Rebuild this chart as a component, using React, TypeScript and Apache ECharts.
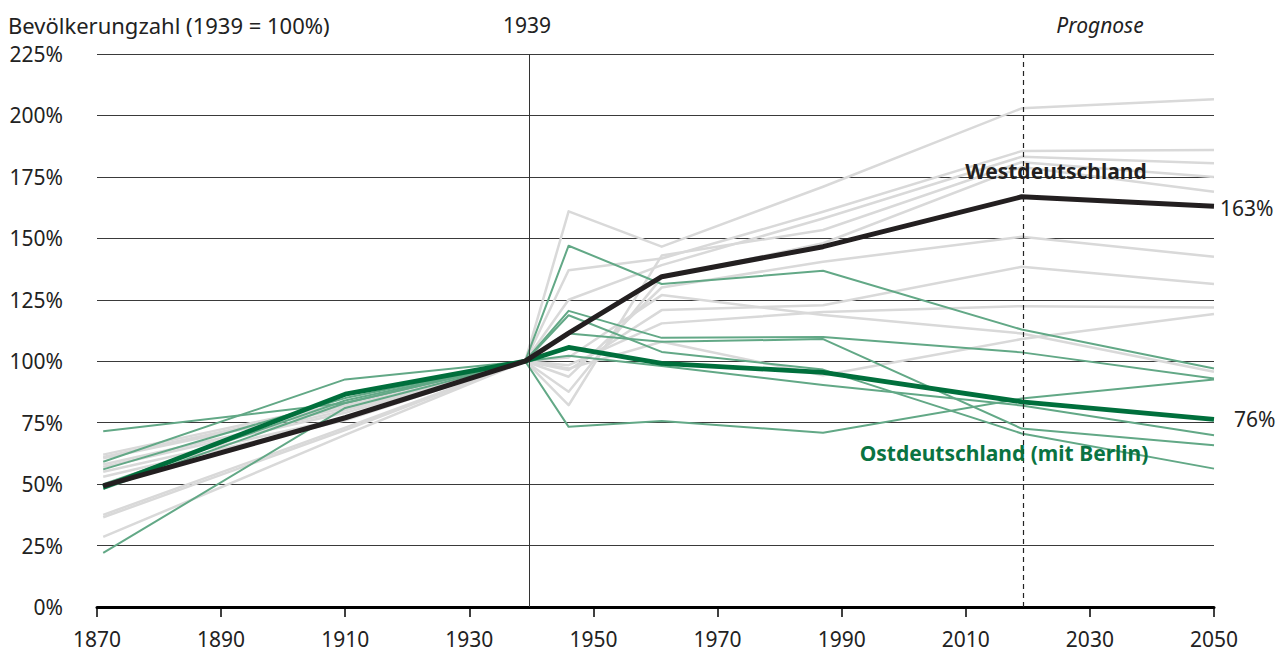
import React, { useEffect, useRef } from "react";
import * as echarts from "echarts";

const years = [1871, 1910, 1939, 1946, 1961, 1987, 2019, 2050];
const xTicks = { min: 1870, max: 2050, step: 20 };
const yTicks = { min: 0, max: 225, step: 25 };

const westTotal = [49.3, 77, 100, 111.4, 134.4, 146.6, 166.9, 163.1];
const eastTotal = [48.7, 86.6, 100, 105.6, 99.1, 95.5, 83.5, 76.3];

const eastStates = [
  [71.5, 83, 100, 147, 131.4, 136.8, 112.9, 97],
  [59.1, 92.6, 100, 120.5, 109.5, 109.9, 103.6, 93],
  [56, 85, 100, 118.7, 103.8, 96.6, 70.6, 56.3],
  [50, 84, 100, 111.3, 107.9, 109, 72.6, 65.8],
  [48, 83, 100, 102.2, 98.1, 90.3, 82, 69.9],
  [22, 81, 100, 73.3, 75.7, 70.9, 84.8, 92.6],
];

const westStates = [
  [62, 83, 100, 161, 146.6, 171, 202.9, 206.6],
  [60.5, 81, 100, 137, 141.8, 160.8, 185.5, 185.9],
  [55, 77, 100, 125, 139.1, 158.1, 183.2, 180.5],
  [37.5, 73, 100, 82.1, 143, 153.4, 181, 175],
  [36.5, 72, 100, 87.6, 134, 148, 179, 169],
  [28.5, 70, 100, 93.7, 130, 140.5, 150.6, 142.5],
  [57, 79, 100, 96.4, 120.8, 122.8, 138.4, 131.4],
  [53, 76, 100, 98.4, 115.4, 120, 122.4, 121.9],
  [61, 82, 100, 97, 107.9, 94.3, 109, 119.2],
  [58, 80, 100, 101.5, 126.9, 118.8, 111.3, 95.7],
];

const markYears = { base: 1939.6, forecast: 2019.3 };

const FONT = "'Noto Sans', sans-serif";
const FS = 21;

function pairs(vals: number[]) {
  return years.map((y, i) => [y, vals[i]]);
}

export default function App() {
  const ref = useRef<HTMLDivElement>(null);
  useEffect(() => {
    document.body.style.margin = "0";
    if (!ref.current) return;
    const chart = echarts.init(ref.current, undefined, { renderer: "svg" });
    const series: any[] = [];
    westStates.forEach((s, i) => {
      series.push({
        type: "line",
        data: pairs(s),
        symbol: "none",
        lineStyle: { color: "#d9d9d9", width: 2.5, join: "round" },
        z: 2,
        silent: true,
        markLine:
          i === 0
            ? {
                silent: true,
                symbol: ["none", "none"],
                label: { show: false },
                data: [
                  { xAxis: markYears.base, lineStyle: { type: "solid", color: "#333", width: 1 } },
                  { xAxis: markYears.forecast, lineStyle: { type: [5, 4], color: "#222", width: 1.2 } },
                ],
              }
            : undefined,
      });
    });
    eastStates.forEach((s) => {
      series.push({
        type: "line",
        data: pairs(s),
        symbol: "none",
        lineStyle: { color: "#62a886", width: 2, join: "round" },
        z: 3,
        silent: true,
      });
    });
    series.push({
      type: "line",
      data: pairs(eastTotal),
      symbol: "none",
      lineStyle: { color: "#006f3c", width: 4.8, join: "round" },
      z: 4,
      silent: true,
      endLabel: {
        show: true,
        formatter: (p: any) => Math.round(p.value[1]) + "%",
        color: "#222",
        fontSize: FS,
        fontFamily: FONT,
        distance: 20,
      },
    });
    series.push({
      type: "line",
      data: pairs(westTotal),
      symbol: "none",
      lineStyle: { color: "#231f20", width: 5, join: "round" },
      z: 5,
      silent: true,
      endLabel: {
        show: true,
        formatter: (p: any) => Math.round(p.value[1]) + "%",
        color: "#222",
        fontSize: FS,
        fontFamily: FONT,
        distance: 6,
        offset: [0, 2],
      },
    });

    chart.setOption({
      animation: false,
      grid: { left: 97, right: 72, top: 54, bottom: 46, containLabel: false },
      xAxis: {
        type: "value",
        min: xTicks.min,
        max: xTicks.max,
        interval: xTicks.step,
        splitLine: { show: false },
        axisLine: { show: true, onZero: true, lineStyle: { color: "#000", width: 3 } },
        axisTick: { show: true, length: 10, lineStyle: { color: "#000", width: 1.5 } },
        axisLabel: {
          color: "#222",
          fontSize: FS,
          fontFamily: FONT,
          margin: 21,
          formatter: (v: number) => String(v),
        },
      },
      yAxis: {
        type: "value",
        min: yTicks.min,
        max: yTicks.max,
        interval: yTicks.step,
        axisLine: { show: false },
        axisTick: { show: false },
        splitLine: { show: true, lineStyle: { color: "#3a3a3a", width: 1 } },
        axisLabel: {
          color: "#222",
          fontSize: FS,
          fontFamily: FONT,
          margin: 34,
          formatter: (v: number) => v + "%",
        },
      },
      graphic: [
        {
          type: "text",
          x: 8,
          y: 25,
          style: {
            text: "Bevölkerungzahl (1939 = 100%)",
            fontSize: 22,
            fontFamily: FONT,
            fill: "#222",
            align: "left",
            verticalAlign: "middle",
          },
        },
        {
          type: "text",
          x: 527,
          y: 25,
          style: { text: "1939", fontSize: FS, fontFamily: FONT, fill: "#222", align: "center", verticalAlign: "middle" },
        },
        {
          type: "text",
          x: 1100,
          y: 25,
          style: {
            text: "Prognose",
            fontSize: FS,
            fontStyle: "italic",
            fontFamily: FONT,
            fill: "#222",
            align: "center",
            verticalAlign: "middle",
          },
        },
        {
          type: "text",
          x: 1056,
          y: 171,
          z: 100,
          style: {
            text: "Westdeutschland",
            fontSize: FS,
            fontWeight: "bold",
            fontFamily: FONT,
            fill: "#231f20",
            align: "center",
            verticalAlign: "middle",
          },
        },
        {
          type: "text",
          x: 1004,
          y: 453,
          z: 100,
          style: {
            text: "Ostdeutschland (mit Berlin)",
            fontSize: FS,
            fontWeight: "bold",
            fontFamily: FONT,
            fill: "#0a7342",
            align: "center",
            verticalAlign: "middle",
          },
        },
      ],
      series,
    });
    return () => chart.dispose();
  }, []);
  return <div ref={ref} style={{ width: 1286, height: 653 }} />;
}
